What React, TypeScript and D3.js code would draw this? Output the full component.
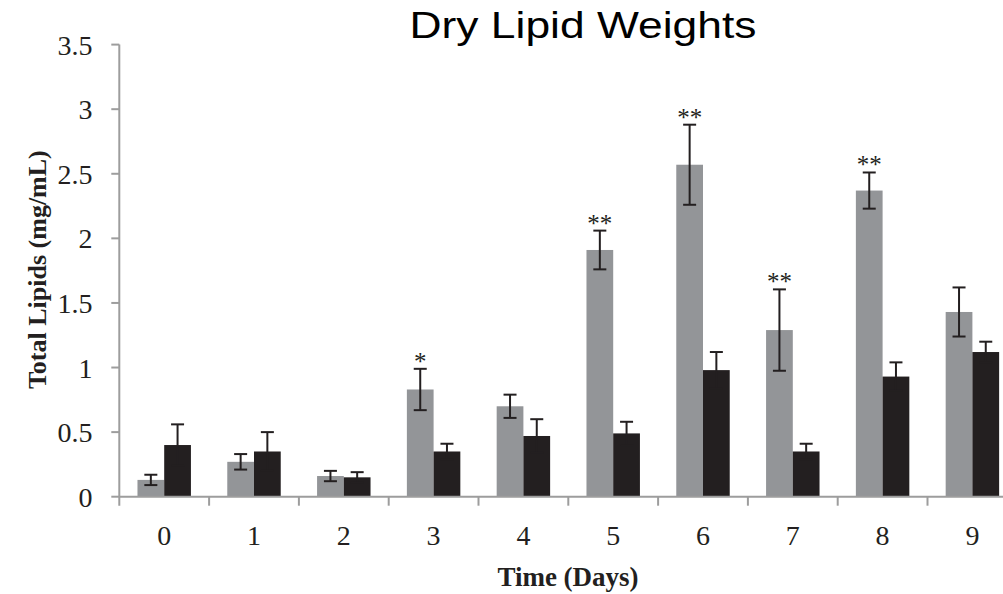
import React from "react";
import * as d3 from "d3";

const days = ["0", "1", "2", "3", "4", "5", "6", "7", "8", "9"];
const series = ["treated", "control"];
const treatedMeans = [0.13, 0.27, 0.16, 0.83, 0.70, 1.91, 2.57, 1.29, 2.37, 1.43];
const treatedErr = [0.04, 0.06, 0.04, 0.16, 0.09, 0.15, 0.31, 0.315, 0.14, 0.19];
const controlMeans = [0.40, 0.35, 0.15, 0.35, 0.47, 0.49, 0.98, 0.35, 0.93, 1.12];
const controlErr = [0.16, 0.15, 0.04, 0.06, 0.13, 0.09, 0.14, 0.06, 0.11, 0.08];
const stars = ["", "", "", "*", "", "**", "**", "**", "**", ""];
const yTicks = [0, 0.5, 1, 1.5, 2, 2.5, 3, 3.5];

const W = 1003;
const H = 594;
const left = 119.3;
const bottom = 496.7;
const top = 44.6;
const bandW = 89.8;

const App = () => {
  const x = d3
    .scaleBand()
    .domain(days)
    .range([left, left + bandW * days.length])
    .paddingInner(0)
    .paddingOuter(0);
  const y = d3.scaleLinear().domain([0, 3.5]).range([bottom, top]);

  // Excel-like gap width of ~68%
  const groupW = x.bandwidth() / 1.68;
  const x1 = d3.scaleBand().domain(series).range([0, groupW]);
  const offset = (x.bandwidth() - groupW) / 2;

  const fills = { treated: "#939598", control: "#231f20" };
  const axisColor = "#9d9d9d";
  const serif = "'Liberation Serif', 'Times New Roman', serif";

  const rows = days.map((d, i) => ({
    day: d,
    treated: { v: treatedMeans[i], e: treatedErr[i] },
    control: { v: controlMeans[i], e: controlErr[i] },
    star: stars[i],
  }));

  return (
    <svg
      width={W}
      height={H}
      style={{ position: "absolute", left: 0, top: 0, background: "#fff" }}
    >
      {/* title */}
      <text
        x={583}
        y={38}
        textAnchor="middle"
        fontFamily="'Liberation Sans', Arial, sans-serif"
        fontSize={37}
        textLength={347}
        lengthAdjust="spacingAndGlyphs"
        fill="#000"
      >
        Dry Lipid Weights
      </text>

      {/* bars */}
      {rows.map((r) =>
        series.map((s) => {
          const d = r[s];
          const bx = x(r.day) + offset + x1(s);
          return (
            <rect
              key={r.day + s}
              x={bx}
              y={y(d.v)}
              width={x1.bandwidth()}
              height={bottom - y(d.v)}
              fill={fills[s]}
            />
          );
        })
      )}

      {/* error bars */}
      {rows.map((r) =>
        series.map((s) => {
          const d = r[s];
          const cx = x(r.day) + offset + x1(s) + x1.bandwidth() / 2;
          const y1 = y(d.v + d.e);
          const y0 = y(Math.max(0, d.v - d.e));
          return (
            <g key={"e" + r.day + s} stroke="#231f20" strokeWidth={2}>
              <line x1={cx} x2={cx} y1={y0} y2={y1} />
              <line x1={cx - 6.5} x2={cx + 6.5} y1={y1} y2={y1} />
              <line x1={cx - 6.5} x2={cx + 6.5} y1={y0} y2={y0} />
            </g>
          );
        })
      )}

      {/* significance marks */}
      {rows.map((r) => {
        if (!r.star) return null;
        const cx = x(r.day) + offset + x1("treated") + x1.bandwidth() / 2;
        return (
          <text
            key={"s" + r.day}
            x={cx}
            y={y(r.treated.v + r.treated.e) + 1}
            textAnchor="middle"
            fontFamily={serif}
            fontSize={25}
            fill="#231f20"
          >
            {r.star}
          </text>
        );
      })}

      {/* y axis */}
      <line x1={left} x2={left} y1={top} y2={bottom + 9} stroke={axisColor} strokeWidth={2} />
      {yTicks.map((t) => (
        <g key={"y" + t}>
          <line x1={left - 8} x2={left} y1={y(t)} y2={y(t)} stroke={axisColor} strokeWidth={2} />
          <text
            x={92.5}
            y={y(t) + 10}
            textAnchor="end"
            fontFamily={serif}
            fontSize={28}
            fill="#231f20"
          >
            {t}
          </text>
        </g>
      ))}

      {/* x axis */}
      <line x1={left} x2={W} y1={bottom} y2={bottom} stroke={axisColor} strokeWidth={2} />
      {days.map((d, i) => (
        <line
          key={"xt" + d}
          x1={left + bandW * (i + 1)}
          x2={left + bandW * (i + 1)}
          y1={bottom}
          y2={bottom + 9}
          stroke={axisColor}
          strokeWidth={2}
        />
      ))}
      {days.map((d) => (
        <text
          key={"xl" + d}
          x={x(d) + x.bandwidth() / 2}
          y={545}
          textAnchor="middle"
          fontFamily={serif}
          fontSize={28}
          fill="#231f20"
        >
          {d}
        </text>
      ))}

      {/* axis titles */}
      <text
        x={568}
        y={586}
        textAnchor="middle"
        fontFamily={serif}
        fontWeight="bold"
        fontSize={27}
        fill="#231f20"
      >
        Time (Days)
      </text>
      <text
        transform={`translate(46,${(top + bottom) / 2 - 1}) rotate(-90)`}
        textAnchor="middle"
        fontFamily={serif}
        fontWeight="bold"
        fontSize={26}
        fill="#231f20"
      >
        Total Lipids (mg/mL)
      </text>
    </svg>
  );
};

export default App;
